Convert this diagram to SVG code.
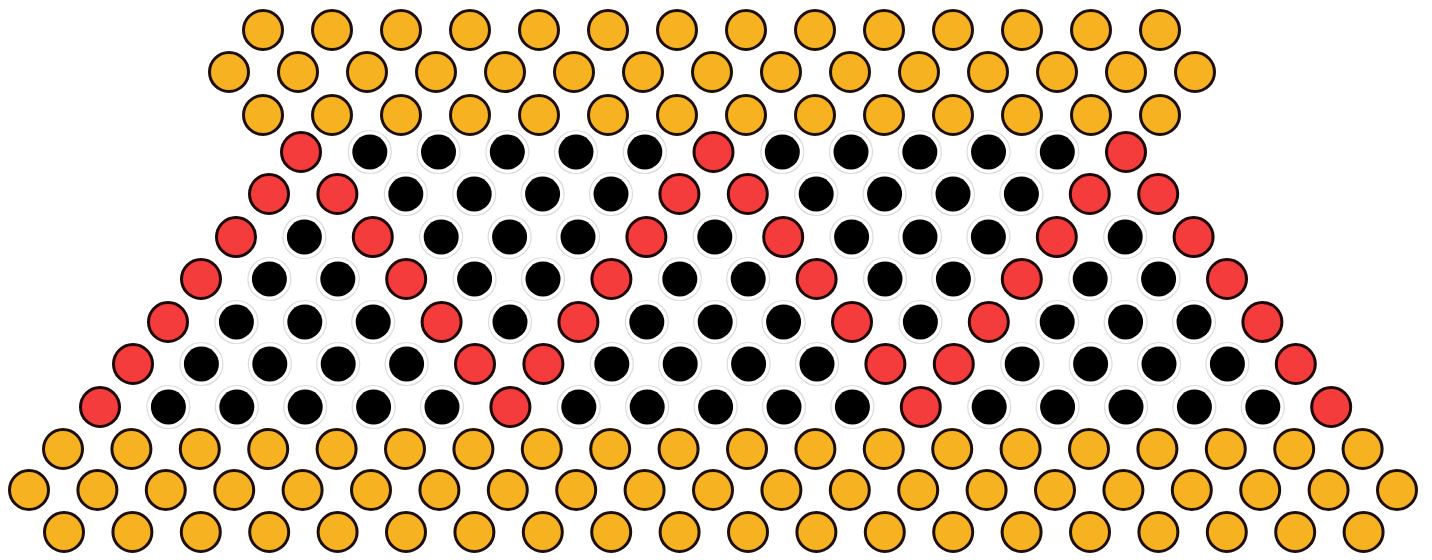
<svg xmlns="http://www.w3.org/2000/svg" xmlns:xlink="http://www.w3.org/1999/xlink" width="1432" height="560" viewBox="0 0 1432 560">
<style>
.y{fill:#F6B221;stroke:#1c0f06;stroke-width:3}
.r{fill:#F53C3C;stroke:#1c0606;stroke-width:3}
.ring{fill:#fff;stroke:#dcdcdc;stroke-width:1.2}
.b{fill:#000}
</style>
<defs>
<circle id="Y" class="y" r="19.5"/>
<circle id="R" class="r" r="19.5"/>
<g id="B"><circle class="ring" r="21.5"/><circle class="b" r="17.5"/></g>
</defs>
<rect width="1432" height="560" fill="#fff"/>
<g id="row0" transform="translate(0,30)">
<use href="#Y" x="263"/><use href="#Y" x="332"/><use href="#Y" x="401"/><use href="#Y" x="470"/><use href="#Y" x="539"/><use href="#Y" x="608"/><use href="#Y" x="677"/><use href="#Y" x="746"/><use href="#Y" x="815"/><use href="#Y" x="884"/><use href="#Y" x="953"/><use href="#Y" x="1022"/><use href="#Y" x="1091"/><use href="#Y" x="1160"/>
</g>
<g id="row1" transform="translate(0,72)">
<use href="#Y" x="229"/><use href="#Y" x="298"/><use href="#Y" x="367"/><use href="#Y" x="436"/><use href="#Y" x="505"/><use href="#Y" x="574"/><use href="#Y" x="643"/><use href="#Y" x="712"/><use href="#Y" x="781"/><use href="#Y" x="850"/><use href="#Y" x="919"/><use href="#Y" x="988"/><use href="#Y" x="1057"/><use href="#Y" x="1126"/><use href="#Y" x="1195"/>
</g>
<g id="row2" transform="translate(0,115)">
<use href="#Y" x="263"/><use href="#Y" x="332"/><use href="#Y" x="401"/><use href="#Y" x="470"/><use href="#Y" x="539"/><use href="#Y" x="608"/><use href="#Y" x="677"/><use href="#Y" x="746"/><use href="#Y" x="815"/><use href="#Y" x="884"/><use href="#Y" x="953"/><use href="#Y" x="1022"/><use href="#Y" x="1091"/><use href="#Y" x="1160"/>
</g>
<g id="row3" transform="translate(0,152)">
<use href="#R" x="301"/><use href="#B" x="369.8"/><use href="#B" x="438.5"/><use href="#B" x="507.3"/><use href="#B" x="576"/><use href="#B" x="644.8"/><use href="#R" x="713.5"/><use href="#B" x="782.3"/><use href="#B" x="851"/><use href="#B" x="919.8"/><use href="#B" x="988.5"/><use href="#B" x="1057.3"/><use href="#R" x="1126"/>
</g>
<g id="row4" transform="translate(0,194)">
<use href="#R" x="269"/><use href="#R" x="337.4"/><use href="#B" x="405.8"/><use href="#B" x="474.2"/><use href="#B" x="542.6"/><use href="#B" x="611"/><use href="#R" x="679.4"/><use href="#R" x="747.8"/><use href="#B" x="816.2"/><use href="#B" x="884.6"/><use href="#B" x="953"/><use href="#B" x="1021.4"/><use href="#R" x="1089.8"/><use href="#R" x="1158.2"/>
</g>
<g id="row5" transform="translate(0,237)">
<use href="#R" x="236"/><use href="#B" x="304.4"/><use href="#R" x="372.8"/><use href="#B" x="441.2"/><use href="#B" x="509.6"/><use href="#B" x="578"/><use href="#R" x="646.4"/><use href="#B" x="714.8"/><use href="#R" x="783.2"/><use href="#B" x="851.6"/><use href="#B" x="920"/><use href="#B" x="988.4"/><use href="#R" x="1056.8"/><use href="#B" x="1125.2"/><use href="#R" x="1193.6"/>
</g>
<g id="row6" transform="translate(0,279)">
<use href="#R" x="201"/><use href="#B" x="269.4"/><use href="#B" x="337.8"/><use href="#R" x="406.2"/><use href="#B" x="474.6"/><use href="#B" x="543"/><use href="#R" x="611.4"/><use href="#B" x="679.8"/><use href="#B" x="748.2"/><use href="#R" x="816.6"/><use href="#B" x="885"/><use href="#B" x="953.4"/><use href="#R" x="1021.8"/><use href="#B" x="1090.2"/><use href="#B" x="1158.6"/><use href="#R" x="1227"/>
</g>
<g id="row7" transform="translate(0,322)">
<use href="#R" x="168"/><use href="#B" x="236.4"/><use href="#B" x="304.8"/><use href="#B" x="373.2"/><use href="#R" x="441.6"/><use href="#B" x="510"/><use href="#R" x="578.4"/><use href="#B" x="646.8"/><use href="#B" x="715.2"/><use href="#B" x="783.6"/><use href="#R" x="852"/><use href="#B" x="920.4"/><use href="#R" x="988.8"/><use href="#B" x="1057.2"/><use href="#B" x="1125.6"/><use href="#B" x="1194"/><use href="#R" x="1262.4"/>
</g>
<g id="row8" transform="translate(0,364)">
<use href="#R" x="133"/><use href="#B" x="201.4"/><use href="#B" x="269.8"/><use href="#B" x="338.2"/><use href="#B" x="406.6"/><use href="#R" x="475"/><use href="#R" x="543.4"/><use href="#B" x="611.8"/><use href="#B" x="680.2"/><use href="#B" x="748.6"/><use href="#B" x="817"/><use href="#R" x="885.4"/><use href="#R" x="953.8"/><use href="#B" x="1022.2"/><use href="#B" x="1090.6"/><use href="#B" x="1159"/><use href="#B" x="1227.4"/><use href="#R" x="1295.8"/>
</g>
<g id="row9" transform="translate(0,407)">
<use href="#R" x="100"/><use href="#B" x="168.4"/><use href="#B" x="236.8"/><use href="#B" x="305.2"/><use href="#B" x="373.6"/><use href="#B" x="442"/><use href="#R" x="510.4"/><use href="#B" x="578.8"/><use href="#B" x="647.2"/><use href="#B" x="715.6"/><use href="#B" x="784"/><use href="#B" x="852.4"/><use href="#R" x="920.8"/><use href="#B" x="989.2"/><use href="#B" x="1057.6"/><use href="#B" x="1126"/><use href="#B" x="1194.4"/><use href="#B" x="1262.8"/><use href="#R" x="1331.2"/>
</g>
<g id="row10" transform="translate(0,449)">
<use href="#Y" x="63"/><use href="#Y" x="131.4"/><use href="#Y" x="199.8"/><use href="#Y" x="268.2"/><use href="#Y" x="336.6"/><use href="#Y" x="405"/><use href="#Y" x="473.4"/><use href="#Y" x="541.8"/><use href="#Y" x="610.2"/><use href="#Y" x="678.6"/><use href="#Y" x="747"/><use href="#Y" x="815.4"/><use href="#Y" x="883.8"/><use href="#Y" x="952.2"/><use href="#Y" x="1020.6"/><use href="#Y" x="1089"/><use href="#Y" x="1157.4"/><use href="#Y" x="1225.8"/><use href="#Y" x="1294.2"/><use href="#Y" x="1362.6"/>
</g>
<g id="row11" transform="translate(0,490)">
<use href="#Y" x="29"/><use href="#Y" x="97.4"/><use href="#Y" x="165.8"/><use href="#Y" x="234.2"/><use href="#Y" x="302.6"/><use href="#Y" x="371"/><use href="#Y" x="439.4"/><use href="#Y" x="507.8"/><use href="#Y" x="576.2"/><use href="#Y" x="644.6"/><use href="#Y" x="713"/><use href="#Y" x="781.4"/><use href="#Y" x="849.8"/><use href="#Y" x="918.2"/><use href="#Y" x="986.6"/><use href="#Y" x="1055"/><use href="#Y" x="1123.4"/><use href="#Y" x="1191.8"/><use href="#Y" x="1260.2"/><use href="#Y" x="1328.6"/><use href="#Y" x="1397"/>
</g>
<g id="row12" transform="translate(0,532)">
<use href="#Y" x="64"/><use href="#Y" x="132.4"/><use href="#Y" x="200.8"/><use href="#Y" x="269.2"/><use href="#Y" x="337.6"/><use href="#Y" x="406"/><use href="#Y" x="474.4"/><use href="#Y" x="542.8"/><use href="#Y" x="611.2"/><use href="#Y" x="679.6"/><use href="#Y" x="748"/><use href="#Y" x="816.4"/><use href="#Y" x="884.8"/><use href="#Y" x="953.2"/><use href="#Y" x="1021.6"/><use href="#Y" x="1090"/><use href="#Y" x="1158.4"/><use href="#Y" x="1226.8"/><use href="#Y" x="1295.2"/><use href="#Y" x="1363.6"/>
</g>
</svg>
